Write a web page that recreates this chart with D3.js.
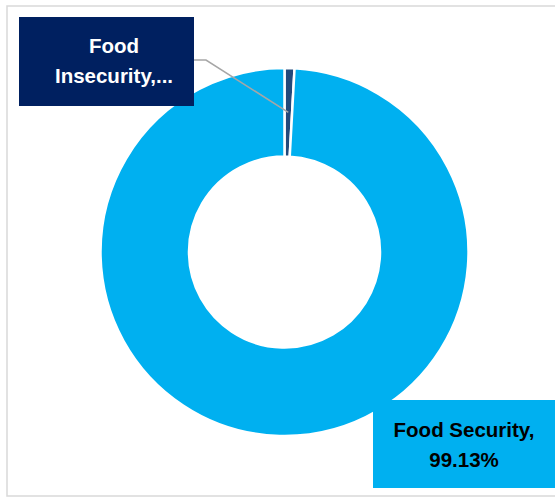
<!DOCTYPE html>
<html><head><meta charset="utf-8">
<script src="https://cdn.jsdelivr.net/npm/d3@7"></script>
<style>html,body{margin:0;padding:0;background:#fff;}svg{display:block;}</style>
</head><body>
<svg id="chart" width="555" height="498"></svg>
<script>
const categories = ["Food Insecurity", "Food Security"];
const values = [0.87, 99.13];
const labelTexts = [["Food", "Insecurity,..."], ["Food Security,", "99.13%"]];
const colors = ["#24497a", "#00b0f0"];

const svg = d3.select("#chart");
svg.append("rect").attr("x", 7).attr("y", 6).attr("width", 560).attr("height", 490)
  .attr("fill", "#fff").attr("stroke", "#d9d9d9").attr("stroke-width", 1.5);

const cx = 284.5, cy = 252, rOuter = 184, rInner = 95.5;
const g = svg.append("g").attr("transform", `translate(${cx},${cy})`);
const data = categories.map((c, i) => ({ cat: c, value: values[i] }));
const pie = d3.pie().value(d => d.value).sort(null).startAngle(0).endAngle(2 * Math.PI);
const arcs = pie(data);
const arc = d3.arc().innerRadius(rInner).outerRadius(rOuter);
const color = d3.scaleOrdinal().domain(categories).range(colors);

g.selectAll("path.slice").data(arcs).join("path")
  .attr("class", "slice")
  .attr("d", arc)
  .attr("fill", d => color(d.data.cat))
  .attr("stroke", "#fff").attr("stroke-width", 2.5).attr("stroke-linejoin", "miter");

// leader line for small slice
const c0 = arc.centroid(arcs[0]);
svg.append("polyline")
  .attr("points", `194,60 206,60 ${cx + c0[0]},${cy + c0[1]}`)
  .attr("fill", "none").attr("stroke", "#a6a6a6").attr("stroke-width", 1.5);

// label boxes
const boxes = [
  { x: 19, y: 17, w: 175, h: 89, fill: "#002060", text: "#fff", tx: 114, by: 53.3 },
  { x: 373, y: 400, w: 190, h: 88, fill: "#00b0f0", text: "#000", tx: 464, by: 437.3 }
];
boxes.forEach((b, i) => {
  svg.append("rect").attr("x", b.x).attr("y", b.y).attr("width", b.w).attr("height", b.h).attr("fill", b.fill);
  const t = svg.append("text").attr("text-anchor", "middle")
    .attr("font-family", "'Liberation Sans', Arial, sans-serif").attr("font-weight", "bold")
    .attr("font-size", 20.5).attr("fill", b.text);
  labelTexts[i].forEach((s, j) => {
    t.append("tspan").attr("x", b.tx).attr("y", b.by + j * 30).text(s);
  });
});
</script>
</body></html>
